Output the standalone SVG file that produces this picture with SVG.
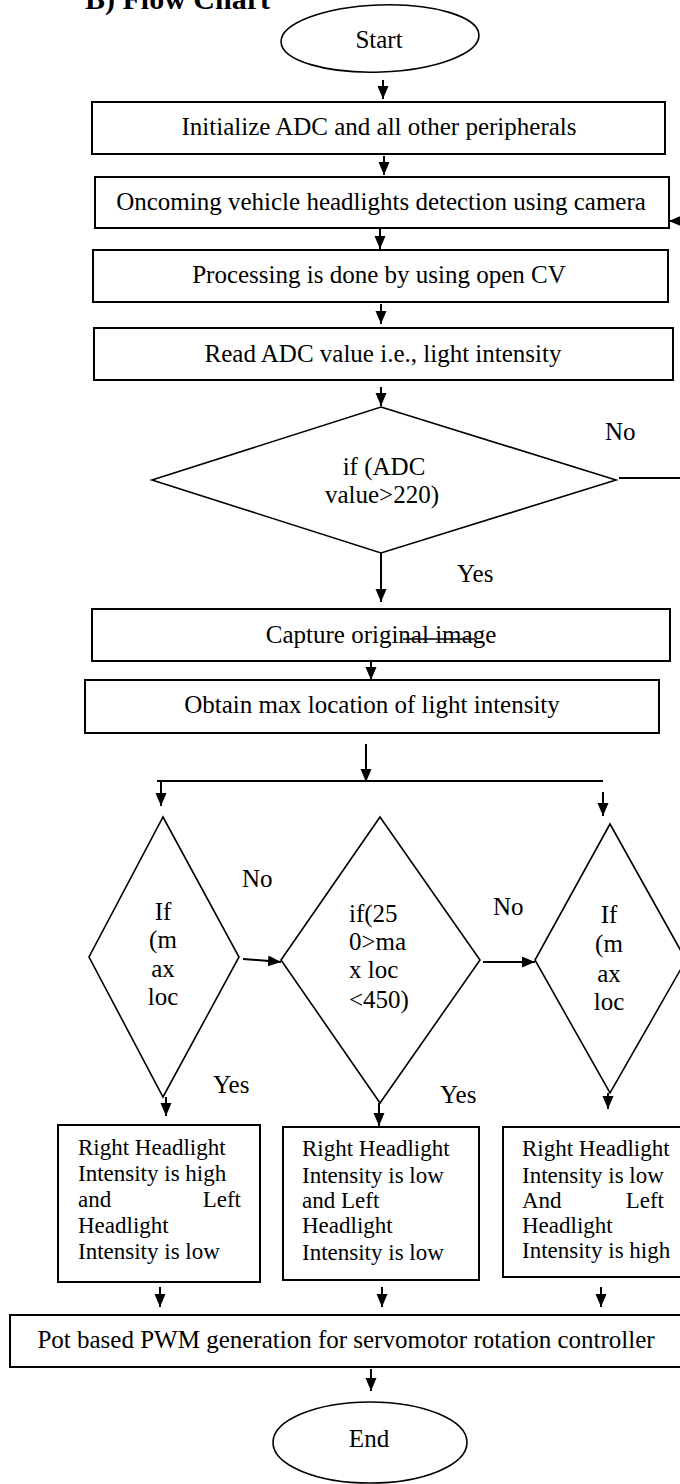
<svg xmlns="http://www.w3.org/2000/svg" width="680" height="1484" viewBox="0 0 680 1484">
<defs>
<marker id="ah" markerUnits="userSpaceOnUse" markerWidth="14" markerHeight="12" refX="13" refY="5.5" orient="auto">
<path d="M0,0 L13,5.5 L0,11 z" fill="#000"/>
</marker>
<style>
.t{font-family:"Liberation Serif","Times New Roman",serif;font-size:25px;fill:#000}
.s{font-family:"Liberation Serif","Times New Roman",serif;font-size:23px;fill:#000}
.c{text-anchor:middle}
.e{text-anchor:end}
.box{fill:#fff;stroke:#000;stroke-width:2}
.dia{fill:#fff;stroke:#000;stroke-width:1.6}
.ell{fill:#fff;stroke:#000;stroke-width:1.6}
.con{fill:none;stroke:#000;stroke-width:2}
.arr{fill:none;stroke:#000;stroke-width:2;marker-end:url(#ah)}
</style>
</defs>
<rect width="680" height="1484" fill="#fff"/>
<text x="85" y="9" font-family="'Liberation Serif','Times New Roman',serif" font-size="30" font-weight="bold">B) Flow Chart</text>

<g id="connectors">
<line class="arr" x1="383" y1="80" x2="383" y2="99"/>
<line class="arr" x1="384" y1="156" x2="384" y2="175"/>
<line class="arr" x1="380" y1="229" x2="380" y2="249"/>
<line class="arr" x1="381" y1="304" x2="381" y2="324"/>
<line class="arr" x1="381" y1="387" x2="381" y2="406"/>
<line class="arr" x1="381" y1="553" x2="381" y2="602"/>
<line class="con" x1="619" y1="478" x2="682" y2="478"/>
<line class="arr" x1="684" y1="221" x2="669" y2="221"/>
<line class="arr" x1="371" y1="662" x2="371" y2="680"/>
<line class="arr" x1="366" y1="744" x2="366" y2="782"/>
<line class="con" x1="157" y1="781" x2="603" y2="781"/>
<line class="arr" x1="161" y1="781" x2="161" y2="806"/>
<line class="arr" x1="603" y1="792" x2="603" y2="816"/>
<line class="arr" x1="243" y1="959" x2="281" y2="962"/>
<line class="arr" x1="483" y1="962" x2="535" y2="962"/>
<line class="arr" x1="166" y1="1097" x2="166" y2="1116"/>
<line class="arr" x1="379" y1="1103" x2="379" y2="1126"/>
<line class="arr" x1="608" y1="1093" x2="608" y2="1109"/>
<line class="arr" x1="160" y1="1287" x2="160" y2="1307"/>
<line class="arr" x1="382" y1="1287" x2="382" y2="1307"/>
<line class="arr" x1="601" y1="1287" x2="601" y2="1307"/>
<line class="arr" x1="371" y1="1369" x2="371" y2="1391"/>
</g>

<g id="labels">
<text class="t" x="605" y="440">No</text>
<text class="t" x="457" y="582">Yes</text>
<text class="t" x="242" y="887">No</text>
<text class="t" x="493" y="915">No</text>
<text class="t" x="213" y="1093">Yes</text>
<text class="t" x="440" y="1103">Yes</text>
</g>

<g id="start">
<ellipse class="ell" cx="380" cy="38.5" rx="99" ry="33.5" transform="rotate(-2 380 38.5)"/>
<text class="t c" x="379" y="48">Start</text>
</g>

<g id="init">
<rect class="box" x="92" y="102" width="573" height="52"/>
<text class="t c" x="379" y="135">Initialize ADC and all other peripherals</text>
</g>

<g id="detect">
<rect class="box" x="95" y="177" width="574" height="51"/>
<text class="t c" x="381" y="210">Oncoming vehicle headlights detection using camera</text>
</g>

<g id="process">
<rect class="box" x="93" y="250" width="575" height="52"/>
<text class="t c" x="379" y="283">Processing is done by using open CV</text>
</g>

<g id="read">
<rect class="box" x="94" y="328" width="579" height="52"/>
<text class="t c" x="383" y="362">Read ADC value i.e., light intensity</text>
</g>

<g id="adc-decision">
<polygon class="dia" points="381,407 616,480 381,553 152,480"/>
<text class="t c" x="384" y="475">if (ADC</text>
<text class="t c" x="382" y="503">value&gt;220)</text>
</g>

<g id="capture">
<rect class="box" x="92" y="609" width="578" height="52"/>
<text class="t c" x="381" y="643">Capture original image</text>
<line x1="403" y1="639" x2="475" y2="639" stroke="#000" stroke-width="1.5"/>
</g>

<g id="obtain">
<rect class="box" x="85" y="680" width="574" height="53"/>
<text class="t c" x="372" y="713">Obtain max location of light intensity</text>
</g>

<g id="left-decision">
<polygon class="dia" points="163,817 239,957 163,1097 89,957"/>
<text class="t c" x="163" y="920">If</text>
<text class="t c" x="163" y="948">(m</text>
<text class="t c" x="163" y="977">ax</text>
<text class="t c" x="163" y="1005">loc</text>
</g>

<g id="middle-decision">
<polygon class="dia" points="380,817 480,960 380,1103 281,960"/>
<text class="t" x="349" y="922">if(25</text>
<text class="t" x="349" y="950">0&gt;ma</text>
<text class="t" x="349" y="978">x loc</text>
<text class="t" x="349" y="1008">&lt;450)</text>
</g>

<g id="right-decision">
<polygon class="dia" points="610,824 686,960 610,1093 535,960"/>
<text class="t c" x="609" y="923">If</text>
<text class="t c" x="609" y="952">(m</text>
<text class="t c" x="609" y="982">ax</text>
<text class="t c" x="609" y="1010">loc</text>
</g>

<g id="left-result">
<rect class="box" x="58" y="1125" width="202" height="157"/>
<text class="s" x="78" y="1155">Right Headlight</text>
<text class="s" x="78" y="1181">Intensity is high</text>
<text class="s" x="78" y="1207">and</text>
<text class="s e" x="241" y="1207">Left</text>
<text class="s" x="78" y="1233">Headlight</text>
<text class="s" x="78" y="1259">Intensity is low</text>
</g>

<g id="middle-result">
<rect class="box" x="283" y="1127" width="196" height="153"/>
<text class="s" x="302" y="1156">Right Headlight</text>
<text class="s" x="302" y="1183">Intensity is low</text>
<text class="s" x="302" y="1208">and Left</text>
<text class="s" x="302" y="1233">Headlight</text>
<text class="s" x="302" y="1260">Intensity is low</text>
</g>

<g id="right-result">
<rect class="box" x="503" y="1127" width="182" height="150"/>
<text class="s" x="522" y="1156">Right Headlight</text>
<text class="s" x="522" y="1183">Intensity is low</text>
<text class="s" x="522" y="1208">And</text>
<text class="s e" x="664" y="1208">Left</text>
<text class="s" x="522" y="1233">Headlight</text>
<text class="s" x="522" y="1258">Intensity is high</text>
</g>

<g id="pwm">
<rect class="box" x="10" y="1315" width="675" height="52"/>
<text class="t c" x="346" y="1348">Pot based PWM generation for servomotor rotation controller</text>
</g>

<g id="end">
<ellipse class="ell" cx="370" cy="1442.5" rx="97" ry="40.5"/>
<text class="t c" x="369" y="1447">End</text>
</g>
</svg>
